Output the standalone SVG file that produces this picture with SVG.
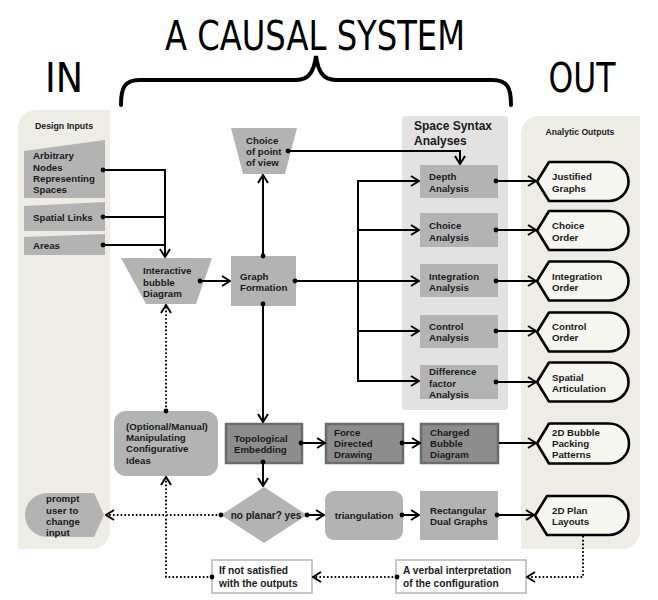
<svg xmlns="http://www.w3.org/2000/svg" width="658" height="600" viewBox="0 0 658 600">
<style>
.t{font-family:"Liberation Sans",Arial,sans-serif;font-weight:bold;font-size:9.7px;fill:#1a1a1a}
.big{font-family:"DejaVu Sans Condensed","DejaVu Sans",sans-serif;font-stretch:condensed;font-size:41px;fill:#000}
.box{fill:#b3b3b3}
.dark{fill:#8d8d8d;stroke:#6c6c6c;stroke-width:2.5}
.out{fill:#f6f6f0;stroke:#000;stroke-width:2.6;stroke-linejoin:round}
.c{fill:none;stroke:#000;stroke-width:2}
.d{fill:none;stroke:#000;stroke-width:2;stroke-dasharray:1.6,2.2}
.a{marker-end:url(#arr)}
.s{marker-start:url(#dot)}
</style>
<defs>
<marker id="arr" viewBox="0 0 10 12" refX="9" refY="6" markerWidth="10" markerHeight="12" markerUnits="userSpaceOnUse" orient="auto"><path d="M1,1 L9,6 L1,11" fill="none" stroke="#000" stroke-width="2"/></marker>
<marker id="dot" viewBox="0 0 6 6" refX="3" refY="3" markerWidth="6" markerHeight="6" markerUnits="userSpaceOnUse"><circle cx="3" cy="3" r="2.4" fill="#000"/></marker>
</defs>
<rect width="658" height="600" fill="#fff"/>

<g id="headings">
<text class="big" x="315" y="50" text-anchor="middle" textLength="300" lengthAdjust="spacingAndGlyphs">A CAUSAL SYSTEM</text>
<text class="big" x="64" y="92" text-anchor="middle" textLength="38" lengthAdjust="spacingAndGlyphs">IN</text>
<text class="big" x="582" y="92" text-anchor="middle" textLength="67" lengthAdjust="spacingAndGlyphs">OUT</text>
<path d="M121,105 C121,88 124,80 140,80 L296,80 C310,80 314,70 316,56 C318,70 322,80 336,80 L492,80 C508,80 511,88 511,105" fill="none" stroke="#000" stroke-width="4" stroke-linecap="round"/>
</g>

<g id="panels">
<path d="M36,110 H110 V531 A18,18 0 0 1 92,549 H18 V128 A18,18 0 0 1 36,110 Z" fill="#eeede5"/>
<path d="M539,116 H640 V531 A18,18 0 0 1 622,549 H521 V134 A18,18 0 0 1 539,116 Z" fill="#eeede5"/>
<rect x="402" y="116" width="106" height="294" rx="3" fill="#e2e2e2"/>
<text class="t" x="64" y="129" text-anchor="middle" style="font-size:8.8px">Design Inputs</text>
<text class="t" x="580" y="135" text-anchor="middle" style="font-size:8.6px">Analytic Outputs</text>
<text class="t" x="414" y="130" style="font-size:12px">Space Syntax</text>
<text class="t" x="414" y="144.5" style="font-size:12px">Analyses</text>
</g>

<g id="arbitrary">
<polygon class="box" points="24,151 105,140 105,198 24,198"/>
<text class="t" x="33" y="159">Arbitrary</text>
<text class="t" x="33" y="170.5">Nodes</text>
<text class="t" x="33" y="182">Representing</text>
<text class="t" x="33" y="193">Spaces</text>
</g>
<g id="spatial-links">
<polygon class="box" points="24,206 105,202 105,231 24,231"/>
<text class="t" x="33" y="221">Spatial Links</text>
</g>
<g id="areas">
<polygon class="box" points="24,237 105,234 105,255 24,255"/>
<text class="t" x="33" y="249">Areas</text>
</g>

<g id="interactive">
<polygon class="box" points="121,258 212,258 196,304 146,304"/>
<text class="t" x="143" y="274">Interactive</text>
<text class="t" x="143" y="285.5">bubble</text>
<text class="t" x="143" y="296.5">Diagram</text>
</g>
<g id="graph-formation">
<rect class="box" x="231" y="256" width="65" height="50"/>
<text class="t" x="240" y="279.5">Graph</text>
<text class="t" x="240" y="290.5">Formation</text>
</g>
<g id="choice-pov">
<polygon class="box" points="231,128 297,128 285,174 243,174"/>
<text class="t" x="246" y="143.5">Choice</text>
<text class="t" x="246" y="155">of point</text>
<text class="t" x="246" y="166">of view</text>
</g>

<g id="depth"><rect class="box" x="420" y="165" width="78" height="33"/>
<text class="t" x="429" y="179.5">Depth</text><text class="t" x="429" y="191.5">Analysis</text></g>
<g id="choice-analysis"><rect class="box" x="420" y="213" width="78" height="34"/>
<text class="t" x="429" y="228.5">Choice</text><text class="t" x="429" y="240.5">Analysis</text></g>
<g id="integration-analysis"><rect class="box" x="420" y="264" width="78" height="33"/>
<text class="t" x="429" y="279.5">Integration</text><text class="t" x="429" y="290.5">Analysis</text></g>
<g id="control-analysis"><rect class="box" x="420" y="315" width="78" height="33"/>
<text class="t" x="429" y="329.5">Control</text><text class="t" x="429" y="340.5">Analysis</text></g>
<g id="difference-analysis"><rect class="box" x="420" y="365" width="78" height="34"/>
<text class="t" x="429" y="374.5">Difference</text><text class="t" x="429" y="386.5">factor</text><text class="t" x="429" y="397.5">Analysis</text></g>

<g id="out-justified" transform="translate(0,181.5)"><path class="out" d="M537,0 L549,-19.5 H609 A19.5,19.5 0 0 1 609,19.5 H549 Z"/>
<text class="t" x="552" y="-2">Justified</text><text class="t" x="552" y="10">Graphs</text></g>
<g id="out-choice" transform="translate(0,230.5)"><path class="out" d="M537,0 L549,-19.5 H609 A19.5,19.5 0 0 1 609,19.5 H549 Z"/>
<text class="t" x="552" y="-2">Choice</text><text class="t" x="552" y="10">Order</text></g>
<g id="out-integration" transform="translate(0,281)"><path class="out" d="M537,0 L549,-19.5 H609 A19.5,19.5 0 0 1 609,19.5 H549 Z"/>
<text class="t" x="552" y="-1.5">Integration</text><text class="t" x="552" y="9.5">Order</text></g>
<g id="out-control" transform="translate(0,332)"><path class="out" d="M537,0 L549,-19.5 H609 A19.5,19.5 0 0 1 609,19.5 H549 Z"/>
<text class="t" x="552" y="-2.5">Control</text><text class="t" x="552" y="8.5">Order</text></g>
<g id="out-spatial" transform="translate(0,382)"><path class="out" d="M537,0 L549,-19.5 H609 A19.5,19.5 0 0 1 609,19.5 H549 Z"/>
<text class="t" x="552" y="-1.5">Spatial</text><text class="t" x="552" y="9.5">Articulation</text></g>
<g id="out-bubble" transform="translate(0,443.5)"><path class="out" d="M537,0 L549,-20 H609 A20,20 0 0 1 609,20 H549 Z"/>
<text class="t" x="552" y="-8">2D Bubble</text><text class="t" x="552" y="3">Packing</text><text class="t" x="552" y="14">Patterns</text></g>
<g id="out-plan" transform="translate(0,515.5)"><path class="out" d="M535,0 L547,-19.5 H609 A19.5,19.5 0 0 1 609,19.5 H547 Z"/>
<text class="t" x="552" y="-2">2D Plan</text><text class="t" x="552" y="9">Layouts</text></g>

<g id="topological"><rect class="dark" x="226" y="424" width="76" height="39"/>
<text class="t" x="234" y="441.5">Topological</text><text class="t" x="234" y="452.5">Embedding</text></g>
<g id="force"><rect class="dark" x="326" y="424" width="77" height="39"/>
<text class="t" x="334" y="435.5">Force</text><text class="t" x="334" y="446.5">Directed</text><text class="t" x="334" y="457.5">Drawing</text></g>
<g id="charged"><rect class="dark" x="421" y="424" width="77" height="39"/>
<text class="t" x="430" y="435.5">Charged</text><text class="t" x="430" y="446.5">Bubble</text><text class="t" x="430" y="457.5">Diagram</text></g>

<g id="optional"><rect class="box" x="114" y="411" width="104" height="65" rx="12"/>
<text class="t" x="126" y="429.5">(Optional/Manual)</text><text class="t" x="126" y="440.5">Manipulating</text><text class="t" x="126" y="452">Configurative</text><text class="t" x="126" y="463.5">Ideas</text></g>

<g id="planar"><polygon class="box" points="221,515 264,487 307,515 264,543"/>
<text class="t" x="266" y="518.5" text-anchor="middle" style="font-size:10px">no planar? yes</text></g>
<g id="triangulation"><rect class="box" x="325" y="491" width="78" height="49" rx="9"/>
<text class="t" x="364" y="518.5" text-anchor="middle">triangulation</text></g>
<g id="rectangular"><rect class="box" x="420" y="491" width="78" height="49"/>
<text class="t" x="430" y="513.5">Rectangular</text><text class="t" x="430" y="524.5">Dual Graphs</text></g>

<g id="prompt"><path class="box" d="M104,515 L94,493 H47 A22,22 0 0 0 47,537 H94 Z"/>
<text class="t" x="46" y="501.5">prompt</text><text class="t" x="46" y="513.5">user to</text><text class="t" x="46" y="524.5">change</text><text class="t" x="46" y="535.5">input</text></g>

<g id="not-satisfied"><rect x="212" y="560" width="100" height="33" fill="#fff" stroke="#b5b5b5" stroke-width="1.5"/>
<text class="t" x="219" y="573.5" style="font-size:10.2px">If not satisfied</text><text class="t" x="219" y="586.5" style="font-size:10.2px">with the outputs</text></g>
<g id="verbal"><rect x="396" y="560" width="130" height="33" fill="#fff" stroke="#b5b5b5" stroke-width="1.5"/>
<text class="t" x="403" y="573.5" style="font-size:10.2px">A verbal interpretation</text><text class="t" x="403" y="586.5" style="font-size:10.2px">of the configuration</text></g>

<g id="connectors">
<path class="c s a" d="M103,170 H165 V257"/>
<path class="c s" d="M103,217 H165"/>
<path class="c s" d="M103,245 H165"/>
<path class="c s a" d="M200,281 H230"/>
<path class="c s a" d="M263,256 V175"/>
<path class="c s a" d="M288,151 H460 V164"/>
<path class="c s a" d="M295,281 H419"/>
<path class="c a" d="M358,382 V181 H419"/>
<path class="c a" d="M358,230 H419"/>
<path class="c a" d="M358,331 H419"/>
<path class="c a" d="M358,381 H419"/>
<path class="c s a" d="M496,181 H536"/>
<path class="c s a" d="M496,230 H536"/>
<path class="c s a" d="M496,281 H536"/>
<path class="c s a" d="M496,331 H536"/>
<path class="c s a" d="M496,382 H536"/>
<path class="c s a" d="M263,304 V422"/>
<path class="c s a" d="M301,443 H325"/>
<path class="c s a" d="M402,443 H420"/>
<path class="c a" d="M499,443 H536"/>
<path class="c s a" d="M263,462 V486"/>
<path class="c s a" d="M307,515 H324"/>
<path class="c s a" d="M402,515 H419"/>
<path class="c s a" d="M497,515 H534"/>
<path class="d s a" d="M166,411 V305"/>
<path class="d s a" d="M221,515 H106"/>
<path class="d s a" d="M212,577 H166 V477"/>
<path class="d s a" d="M397,577 H313"/>
<path class="d a" d="M583,536 V577 H527"/>
</g>
</svg>
